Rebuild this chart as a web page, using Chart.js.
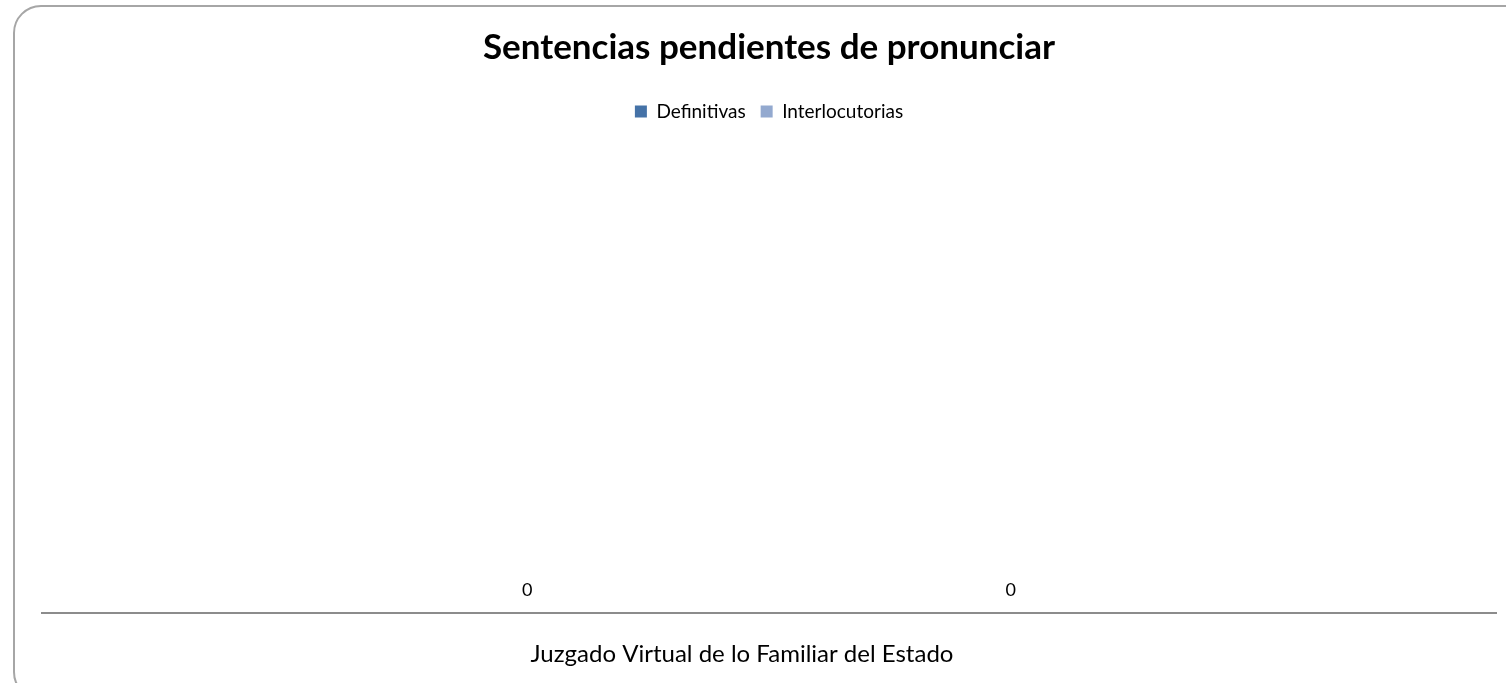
<!DOCTYPE html>
<html>
<head>
<meta charset="utf-8">
<title>Sentencias pendientes de pronunciar</title>
<script src="https://cdn.jsdelivr.net/npm/chart.js@4.4.1/dist/chart.umd.min.js"></script>
<style>
  html, body { margin: 0; padding: 0; background: #fff; overflow: hidden; }
  #frame {
    position: absolute; left: 13px; top: 5px;
    width: 1600px; height: 695px; box-sizing: border-box;
    border: 2px solid #a6a6a6; border-radius: 28px;
  }
  #wrap { position: absolute; left: 0; top: 0; width: 1506px; height: 683px; }
</style>
</head>
<body>
<div id="frame"></div>
<div id="wrap"><canvas id="myChart"></canvas></div>
<script>
// data
const categories = ['Juzgado Virtual de lo Familiar del Estado']
const definitivas = [0]
const interlocutorias = [0]

const FONT = 'Lato, "Open Sans", sans-serif'

// draws the value above each bar (no datalabels plugin available)
const valueLabels = {
  id: 'valueLabels',
  afterDatasetsDraw(chart) {
    const ctx = chart.ctx
    ctx.save()
    ctx.font = '18px ' + FONT
    ctx.fillStyle = '#000'
    ctx.textAlign = 'center'
    ctx.textBaseline = 'alphabetic'
    chart.data.datasets.forEach((ds, i) => {
      chart.getDatasetMeta(i).data.forEach((bar, j) => {
        ctx.fillText(ds.data[j], bar.x, bar.y - 17)
      })
    })
    ctx.restore()
  }
}

var ctx = document.getElementById('myChart').getContext('2d');
var myChart = new Chart(ctx, {
  type: 'bar',
  data: {
    labels: categories,
    datasets: [{
      label: 'Definitivas',
      data: definitivas,
      backgroundColor: '#4572a7'
    }, {
      label: 'Interlocutorias',
      data: interlocutorias,
      backgroundColor: '#93a9cf'
    }]
  },
  options: {
    responsive: true,
    maintainAspectRatio: false,
    animation: false,
    categoryPercentage: 0.665,
    barPercentage: 0.8,
    layout: {
      padding: { left: 42, right: 10, top: 0, bottom: 0 }
    },
    scales: {
      x: {
        grid: { display: false, drawTicks: false },
        border: { display: true, color: '#8c8c8c', width: 2 },
        ticks: {
          color: '#000',
          font: { family: FONT, size: 24 },
          padding: 27,
          labelOffset: -27
        },
        afterFit: s => { s.height = 70 }
      },
      y: {
        display: false,
        min: 0,
        max: 1
      }
    },
    plugins: {
      legend: {
        position: 'top',
        labels: {
          color: '#000',
          boxWidth: 12,
          boxHeight: 12,
          padding: 15,
          font: { family: FONT, size: 19 }
        }
      },
      title: {
        display: true,
        text: 'Sentencias pendientes de pronunciar',
        color: '#000',
        font: { family: FONT, size: 35, weight: 'bold' },
        padding: { top: 27, bottom: 18 }
      },
      tooltip: { enabled: false }
    }
  },
  plugins: [valueLabels]
});
</script>
</body>
</html>
